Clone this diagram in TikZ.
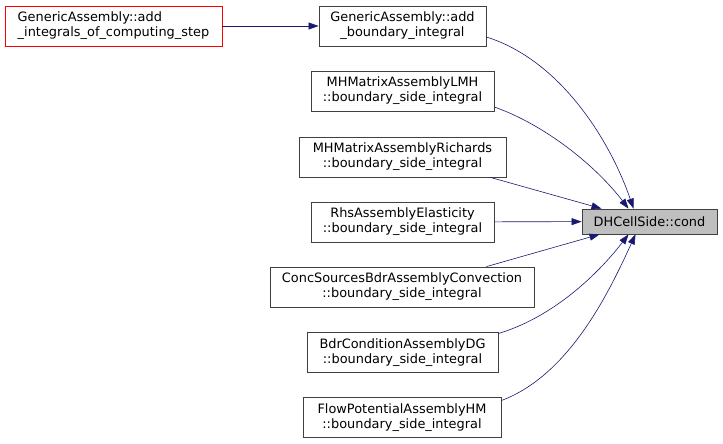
\documentclass[tikz,border=0pt]{standalone}
\usepackage{fontspec}
\setmainfont{DejaVu Sans}
\usetikzlibrary{arrows.meta}

\begin{document}
\begin{tikzpicture}[x=1pt, y=-1pt,
    fn/.style={draw=black!75, thick, fill=white, align=center, inner sep=0pt,
        minimum height=40pt, font=\fontsize{12.9}{15}\selectfont},
    caller/.style={draw=midnightblue, semithick, -{Triangle[length=10pt,width=7pt]}}]
    \definecolor{midnightblue}{HTML}{191970}
    \useasboundingbox (0,0) rectangle (723,444);
    \node[fn, draw=red, minimum width=217pt] (addint) at (113.5,26) {\begin{tabular}{@{}l@{}}GenericAssembly::add\\\_integrals\_of\_computing\_step\end{tabular}};
    \node[fn, minimum width=167pt] (addbdr) at (402.5,26) {GenericAssembly::add\\\_boundary\_integral};
    \node[fn, minimum width=183pt] (lmh) at (402.5,91) {MHMatrixAssemblyLMH\\::boundary\_side\_integral};
    \node[fn, minimum width=207pt] (richards) at (402.5,157) {MHMatrixAssemblyRichards\\::boundary\_side\_integral};
    \node[fn, minimum width=183pt] (rhs) at (402.5,222) {RhsAssemblyElasticity\\::boundary\_side\_integral};
    \node[fn, minimum width=264pt] (conc) at (402,287) {ConcSourcesBdrAssemblyConvection\\::boundary\_side\_integral};
    \node[fn, minimum width=191pt] (bdrdg) at (402.5,352.5) {BdrConditionAssemblyDG\\::boundary\_side\_integral};
    \node[fn, minimum width=198pt] (flow) at (402,417.5) {FlowPotentialAssemblyHM\\::boundary\_side\_integral};
    \node[fn, fill=black!25, minimum width=135pt, minimum height=25pt] (cond) at (649.5,221.5) {DHCellSide::cond};

    \draw[caller] (addint) -- (addbdr);
    \draw[caller] ([yshift=-11pt]addbdr.east) .. controls (560,60) and (610,140) .. ([xshift=-16pt]cond.north);
    \draw[caller] ([yshift=-16pt]lmh.east) .. controls (545,125) and (595,165) .. ([xshift=-21pt]cond.north);
    \draw[caller] ([xshift=-16pt]richards.south east) -- ([xshift=-48pt]cond.north);
    \draw[caller] (rhs) -- (cond);
    \draw[caller] ([xshift=-48pt]conc.north east) -- ([xshift=-50pt]cond.south);
    \draw[caller] ([yshift=19pt]bdrdg.east) .. controls (560,315) and (605,265) .. ([xshift=-21pt]cond.south);
    \draw[caller] ([yshift=17pt]flow.east) .. controls (570,375) and (610,290) .. ([xshift=-14pt]cond.south);
\end{tikzpicture}
\end{document}
